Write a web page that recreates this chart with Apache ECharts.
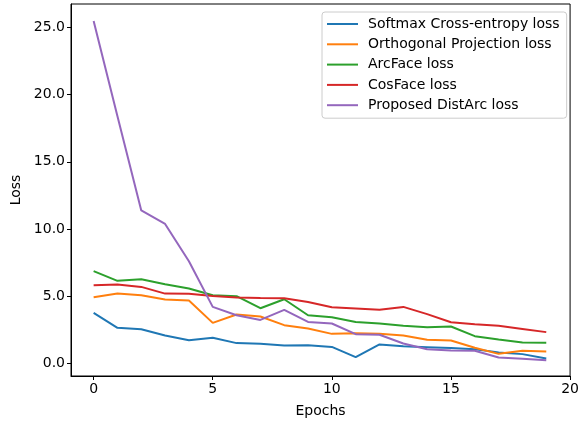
<!DOCTYPE html>
<html>
<head>
<meta charset="utf-8">
<script src="https://cdn.jsdelivr.net/npm/echarts@6/dist/echarts.min.js"></script>
<style>html,body{margin:0;padding:0;background:#fff;}#c{width:582px;height:424px;}</style>
</head>
<body>
<div id="c"></div>
<script>
var epochs = [0,1,2,3,4,5,6,7,8,9,10,11,12,13,14,15,16,17,18,19];
var seriesNames = ['Softmax Cross-entropy loss','Orthogonal Projection loss','ArcFace loss','CosFace loss','Proposed DistArc loss'];
var softmax = [3.74,2.63,2.53,2.06,1.71,1.89,1.49,1.44,1.31,1.34,1.21,0.45,1.39,1.26,1.19,1.12,1.04,0.80,0.67,0.35];
var orthogonal = [4.91,5.18,5.06,4.74,4.66,3.00,3.62,3.47,2.83,2.58,2.18,2.23,2.18,2.06,1.74,1.69,1.14,0.69,0.92,0.87];
var arcface = [6.85,6.13,6.25,5.88,5.56,5.06,4.99,4.09,4.76,3.57,3.42,3.07,2.95,2.78,2.68,2.73,2.01,1.76,1.54,1.51];
var cosface = [5.80,5.85,5.68,5.18,5.16,5.01,4.89,4.86,4.84,4.56,4.17,4.07,3.97,4.19,3.65,3.05,2.90,2.78,2.55,2.31];
var distarc = [25.5,18.4,11.38,10.37,7.59,4.19,3.57,3.22,3.97,3.07,2.95,2.16,2.11,1.46,1.04,0.94,0.92,0.42,0.32,0.22];
var xTicks = [0,5,10,15,20];
var yTicks = [0,5,10,15,20,25];
var colors = ['#1f77b4','#ff7f0e','#2ca02c','#d62728','#9467bd'];
var allData = [softmax, orthogonal, arcface, cosface, distarc];

var font = 'DejaVu Sans';
var chart = echarts.init(document.getElementById('c'), null, {renderer:'canvas'});
var series = allData.map(function(d, i){
  return {
    name: seriesNames[i],
    type: 'line',
    data: epochs.map(function(e, k){ return [e, d[k]]; }),
    symbol: 'none',
    showSymbol: false,
    lineStyle: {color: colors[i], width: 2},
    itemStyle: {color: colors[i]},
    animation: false
  };
});
chart.setOption({
  backgroundColor: '#fff',
  animation: false,
  grid: {left: 71, right: 10, top: 4, bottom: 48, show: true, borderColor: '#000', borderWidth: 1, backgroundColor: 'transparent'},
  legend: {
    data: seriesNames,
    orient: 'vertical',
    left: 322, top: 12,
    icon: 'rect',
    itemWidth: 31, itemHeight: 2, itemGap: 6.3,
    padding: [5, 7, 6, 5],
    borderColor: '#cccccc', borderWidth: 1, borderRadius: 3,
    backgroundColor: 'rgba(255,255,255,0.8)',
    textStyle: {fontFamily: font, fontSize: 14, color: '#000', padding: [0,0,0,5]}
  },
  xAxis: {
    type: 'value', min: -0.95, max: 20,
    name: 'Epochs', nameLocation: 'middle', nameGap: 28,
    nameTextStyle: {fontFamily: font, fontSize: 14, color: '#000'},
    axisLine: {show: true, onZero: false, lineStyle: {color: '#000', width: 1}},
    splitLine: {show: false},
    axisTick: {show: true, inside: false, length: 4, lineStyle: {color: '#000'}, customValues: xTicks},
    axisLabel: {fontFamily: font, fontSize: 14, color: '#000', margin: 6, customValues: xTicks, formatter: function(v){ return String(v); }}
  },
  yAxis: {
    type: 'value', min: -0.96, max: 26.76,
    name: 'Loss', nameLocation: 'middle', nameGap: 47, nameRotate: 90,
    nameTextStyle: {fontFamily: font, fontSize: 14, color: '#000'},
    axisLine: {show: true, onZero: false, lineStyle: {color: '#000', width: 1}},
    splitLine: {show: false},
    axisTick: {show: true, inside: false, length: 4, lineStyle: {color: '#000'}, customValues: yTicks},
    axisLabel: {fontFamily: font, fontSize: 14, color: '#000', margin: 6, customValues: yTicks, formatter: function(v){ return v.toFixed(1); }}
  },
  series: series
});
</script>
</body>
</html>
